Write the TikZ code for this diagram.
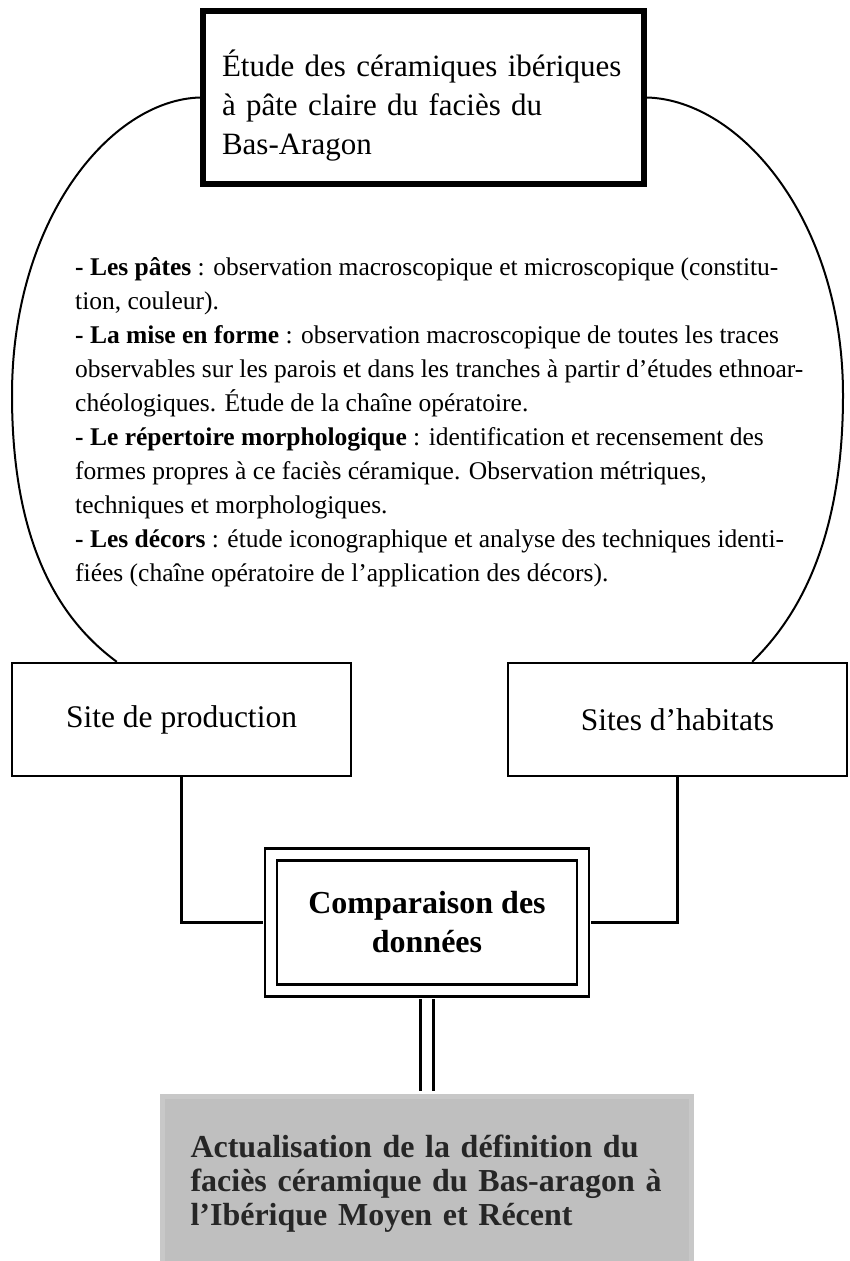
\documentclass[tikz,border=0pt]{standalone}
\usepackage{fontspec}
\setmainfont{Liberation Serif}
\usetikzlibrary{positioning}
\definecolor{boxgray}{HTML}{BFBFBF}
\definecolor{rimgray}{HTML}{C8C8C8}
\tikzset{sitebox/.style={draw,line width=2.4pt,minimum width=339pt,minimum height=113pt,font=\fontsize{31.5}{38}\selectfont}}
\tikzset{link/.style={line width=2.4pt}}
\tikzset{loop/.style={line width=2pt}}

\begin{document}
\begin{tikzpicture}[x=1pt,y=-1pt,on grid]
        \useasboundingbox (0,0) rectangle (849,1261);
        \node(etude)[draw,line width=6pt,minimum width=441pt,minimum height=173pt,text width=403pt,inner xsep=19pt,align=left,font=\fontsize{31}{39}\selectfont] at (423.5,97.5)
          {\rule{0pt}{42pt}Étude des céramiques ibériques\\à pâte claire du faciès du\\Bas-Aragon};
        \node(notes)[anchor=north west,inner sep=0pt,align=left,font=\fontsize{25.5}{34}\selectfont] at (75,257)
          {\textbf{- Les pâtes} : observation macroscopique et microscopique (constitu-\\
           tion, couleur).\\
           \textbf{- La mise en forme} : observation macroscopique de toutes les traces\\
           observables sur les parois et dans les tranches à partir d’études ethnoar-\\
           chéologiques. Étude de la chaîne opératoire.\\
           \textbf{- Le répertoire morphologique} : identification et recensement des\\
           formes propres à ce faciès céramique. Observation métriques,\\
           techniques et morphologiques.\\
           \textbf{- Les décors} : étude iconographique et analyse des techniques identi-\\
           fiées (chaîne opératoire de l’application des décors).};
        \node(prod)[sitebox] at (181.5,719.5) {Site de production};
        \node(hab)[sitebox,right=496pt of prod] {Sites d’habitats};
        \node(comp)[draw,double,line width=2.4pt,double distance=9.6pt,minimum width=311.6pt,minimum height=136pt,align=center,font=\bfseries\fontsize{32}{39}\selectfont,below right=203pt and 245.5pt of prod]
          {Comparaison des\\données};
        \node(result)[fill=boxgray,draw=rimgray,line width=5pt,minimum width=529pt,minimum height=175pt,text width=473pt,inner xsep=28pt,align=left,text=black!85,font=\bfseries\fontsize{32}{34}\selectfont,below=261pt of comp]
          {Actualisation de la définition du\\faciès céramique du Bas-aragon à\\l’Ibérique Moyen et Récent};
        \draw[loop] (etude.west) .. controls (110,100) and (12,220) .. (12,395)
          .. controls (12,545) and (60,620) .. ([xshift=106pt]prod.north west);
        \draw[loop] (etude.east) .. controls (740,100) and (843,220) .. (843,395)
          .. controls (843,545) and (795,620) .. ([xshift=-96pt]hab.north east);
        \draw[link,shorten >=7.2pt] (prod.south) |- (comp.west);
        \draw[link,shorten >=7.2pt] (hab.south) |- (comp.east);
        \draw[link,double,double distance=10.6pt,shorten <=7.2pt,shorten >=2.5pt] (comp.south) -- (result.north);
      \end{tikzpicture}
\end{document}
